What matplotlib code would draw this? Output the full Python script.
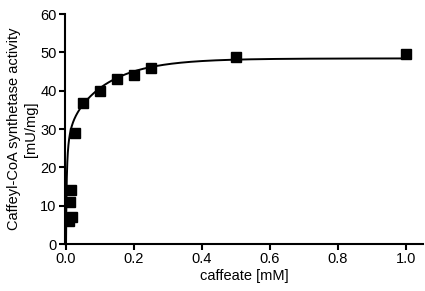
import numpy as np
import matplotlib
matplotlib.use('Agg')
import matplotlib.pyplot as plt

plt.rcParams['font.family'] = ['Liberation Sans', 'DejaVu Sans']

# measured activity
caffeate = [0.008, 0.018, 0.013, 0.015, 0.025, 0.05, 0.1, 0.15, 0.2, 0.25, 0.5, 1.0]
activity = [6.0, 7.0, 11.0, 14.0, 29.0, 36.8, 40.0, 43.0, 44.0, 46.0, 48.8, 49.7]

# fitted curve parameters (high affinity site + slow saturating component)
v1, k1 = 32.0, 0.002
v2, tau = 16.5, 0.12

fig = plt.figure(figsize=(4.25, 2.91), dpi=100)
ax = fig.add_axes([0.153, 0.1615, 0.842, 0.79])

xs = np.linspace(0, 1.0, 4000)
fit = v1 * xs / (k1 + xs) + v2 * (1 - np.exp(-xs / tau))
ax.plot(xs, fit, color='black', lw=1.4, zorder=2)
ax.plot(caffeate, activity, 's', color='black', ms=6.5, zorder=3)

ax.set_xlim(-0.003, 1.05)
ax.set_ylim(0, 60)
ax.set_xticks([0.0, 0.2, 0.4, 0.6, 0.8, 1.0])
ax.set_yticks([0, 10, 20, 30, 40, 50, 60])
ax.xaxis.set_major_formatter(matplotlib.ticker.FormatStrFormatter('%.1f'))
for s in ['top', 'right']:
    ax.spines[s].set_visible(False)
for s in ['left', 'bottom']:
    ax.spines[s].set_linewidth(1.5)
ax.tick_params(direction='out', length=4, width=1.5, labelsize=10.5, colors='black', pad=2)
ax.set_xlabel('caffeate [mM]', fontsize=10.5, labelpad=2)
ax.set_ylabel('Caffeyl-CoA synthetase activity\n[mU/mg]', fontsize=10.5, labelpad=2)

fig.savefig('out.png', dpi=100)
